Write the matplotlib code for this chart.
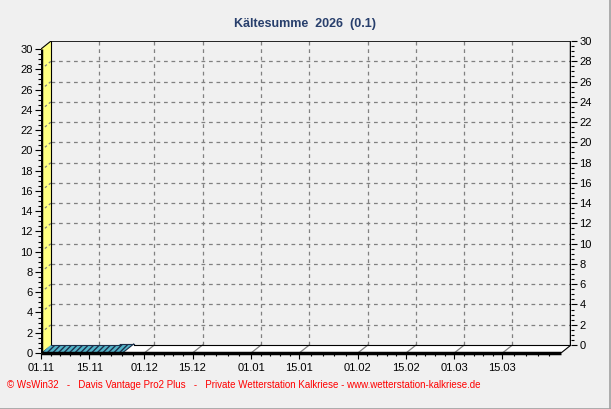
import matplotlib
matplotlib.use("Agg")
import matplotlib.pyplot as plt
from matplotlib.patches import Polygon

# ---- data -------------------------------------------------------------
title = "Kältesumme  2026  (0.1)"
footer = ("© WsWin32   -   Davis Vantage Pro2 Plus   -   "
          "Private Wetterstation Kalkriese - www.wetterstation-kalkriese.de")

n_days = 151                      # 01.11. - 31.03.
tick_days = [0, 14, 30, 44, 61, 75, 92, 106, 120, 134]
tick_labels = ["01.11", "15.11", "01.12", "15.12", "01.01",
               "15.01", "01.02", "15.02", "01.03", "15.03"]

# daily cumulative cold sum from 01.11.
values = [0.0, 0.0, 0.0, 0.0, 0.0, 0.0, 0.0, 0.0, 0.0, 0.0,
          0.0, 0.0, 0.0, 0.0, 0.0, 0.0, 0.0, 0.0, 0.0, 0.0,
          0.1, 0.1, 0.1, 0.1]

y_max = 30
y_ticks = list(range(0, 31, 2))

# ---- layout (pixels of a 611x409 image) ---------------------------------
W, H = 611, 409
front_l, front_r = 41, 561
front_b, front_t = 353, 49
depth_x, depth_y = 10, 8

px_day = (front_r - front_l) / n_days
px_val = (front_b - front_t) / y_max
DX = depth_x / px_day
DY = depth_y / px_val

fig = plt.figure(figsize=(W / 100, H / 100), dpi=100)
fig.patch.set_facecolor("#f0f0f0")
plt.rcParams["font.family"] = ["Liberation Sans", "DejaVu Sans"]

ax = fig.add_axes([front_l / W, 1 - front_b / H,
                   (front_r + depth_x - front_l) / W,
                   (front_b - (front_t - depth_y)) / H])
ax.set_xlim(0, n_days + DX)
ax.set_ylim(0, y_max + DY)
ax.set_facecolor("#f0f0f0")
for s in ax.spines.values():
    s.set_visible(False)

grid_kw = dict(color="#808080", lw=0.9, ls=(0, (3, 3)), zorder=1)

# back wall grid
for v in y_ticks[1:-1]:
    ax.plot([DX, n_days + DX], [v + DY, v + DY], **grid_kw)
    ax.plot([0, DX], [v, v + DY], **grid_kw)
for t in tick_days[1:]:
    ax.plot([t + DX, t + DX], [DY, y_max + DY], **grid_kw)

# left wall (yellow)
ax.add_patch(Polygon([(0, 0), (DX, DY), (DX, y_max + DY), (0, y_max)],
                     closed=True, facecolor="#ffff80", edgecolor="none", zorder=2))
for v in y_ticks[1:-1]:
    ax.plot([0, DX], [v, v + DY], color="#808080", lw=0.9, ls=(0, (2, 2)), zorder=3)
ax.plot([DX, DX], [DY, y_max + DY], color="black", lw=0.8, zorder=3)
ax.plot([0, DX], [y_max, y_max + DY], color="black", lw=0.8, zorder=3)

# floor (white)
end = len(values)
ax.add_patch(Polygon([(end, 0), (n_days, 0), (n_days + DX, DY), (end + DX, DY)],
                     closed=True, facecolor="white", edgecolor="none", zorder=2))
for t in tick_days[1:]:
    if t > end:
        ax.plot([t, t + DX], [0, DY], color="#808080", lw=0.9, zorder=3)
ax.plot([end + DX, n_days + DX], [DY, DY], color="black", lw=0.8, zorder=3)
ax.plot([n_days, n_days + DX], [0, DY], color="black", lw=0.8, zorder=3)

# data: 3d area, merged into segments of equal value
segs = []
start = 0
for i in range(1, end + 1):
    if i == end or values[i] != values[start]:
        segs.append((start, i, values[start]))
        start = i
for a, b, v in segs:
    ax.add_patch(Polygon([(a, v), (b, v), (b + DX, v + DY), (a + DX, v + DY)],
                         closed=True, facecolor="#52b4c8", edgecolor="#1c2f4a",
                         hatch="//////", lw=0, zorder=4))
    ax.add_patch(Polygon([(a, 0), (b, 0), (b, v), (a, v)],
                         closed=True, facecolor="#1c5868", edgecolor="none", zorder=5))
    ax.plot([a + DX, b + DX], [v + DY, v + DY], color="#1c2f4a", lw=0.8, zorder=5)
ax.plot([end, end + DX], [values[-1], values[-1] + DY], color="#1c2f4a", lw=0.8, zorder=5)

# frame lines
ax.plot([DX, n_days + DX], [y_max + DY, y_max + DY], color="black", lw=1.2, zorder=6)
ax.plot([n_days + DX, n_days + DX], [DY, y_max + DY], color="black", lw=2.5,
        zorder=6, solid_capstyle="butt")
ax.plot([0, 0], [0, y_max], color="black", lw=2.5, zorder=6, solid_capstyle="butt")
ax.plot([0, n_days], [0, 0], color="black", lw=2.5, zorder=6, solid_capstyle="butt",
        clip_on=False)

# ticks
ax.set_xticks(tick_days)
ax.set_xticklabels(tick_labels)
minor_x = []
edges = tick_days + [n_days]
for a, b in zip(edges[:-1], edges[1:]):
    minor_x += [a + (b - a) * k / 5 for k in range(1, 5)]
ax.set_xticks(minor_x, minor=True)
ax.set_yticks(y_ticks)
ax.set_yticks([k * 0.5 for k in range(0, 61)], minor=True)
ax.tick_params(axis="both", which="major", direction="out", length=4,
               width=0.8, labelsize=8, pad=2, colors="black")
ax.tick_params(axis="both", which="minor", direction="out", length=2, width=0.8)
ax.tick_params(axis="x", which="major", pad=3)

ax2 = ax.twinx()
ax2.set_ylim(-DY, y_max)
for s in ax2.spines.values():
    s.set_visible(False)
ax2.set_yticks(y_ticks)
ax2.set_yticks([k * 0.5 for k in range(0, 61)], minor=True)
ax2.tick_params(axis="y", which="major", direction="out", length=4,
                width=0.8, labelsize=8, pad=2)
ax2.tick_params(axis="y", which="minor", direction="out", length=2, width=0.8)

# texts
fig.text(305 / W, 1 - 24 / H, title, ha="center", va="center",
         fontsize=9, fontweight="bold", color="#283f6c")
fig.text(7 / W, 1 - 385 / H, footer, ha="left", va="center",
         fontsize=7, color="#ff0000")

# outer border (right and bottom)
fig.add_artist(plt.Line2D([0, 1], [0.5 / H, 0.5 / H], color="#a0a0a0", lw=1.2,
                          transform=fig.transFigure))
fig.add_artist(plt.Line2D([1 - 1.5 / W, 1 - 1.5 / W], [0, 1], color="#a0a0a0", lw=1.2,
                          transform=fig.transFigure))

fig.savefig("out.png", dpi=100, facecolor=fig.get_facecolor())
